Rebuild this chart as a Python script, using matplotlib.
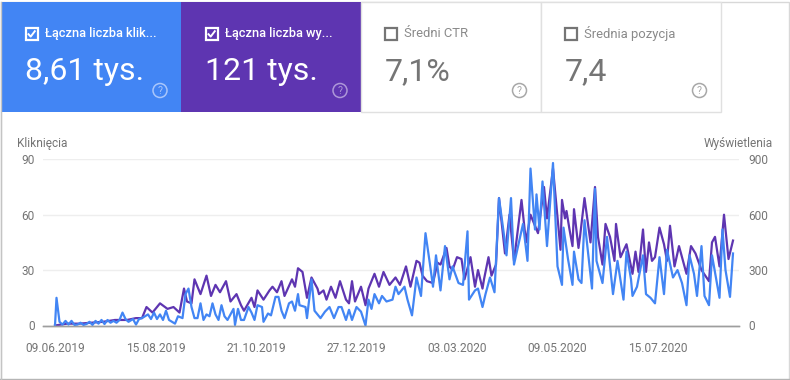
import matplotlib
matplotlib.use('Agg')
import matplotlib.pyplot as plt
from matplotlib.patches import Rectangle, Circle
import pandas as pd

plt.rcParams['font.family'] = ['Roboto', 'DejaVu Sans']

# Days counted from 09.06.2019
click_days = [0, 1, 3, 5, 7, 9, 11, 13, 15, 17, 19, 21, 23, 25, 27, 29, 31, 33, 35, 37, 39, 41, 43,
              45, 47, 49, 52, 54, 56, 58, 60, 62, 64, 66, 68, 70, 72, 74, 76, 78, 80, 82, 85, 87,
              89, 91, 93, 95, 97, 99, 101, 103, 105, 107, 109, 111, 113, 115, 117, 119, 120, 122,
              124, 126, 129, 131, 133, 135, 138, 139, 142, 144, 147, 149, 151, 153, 156, 158, 160,
              162, 163, 167, 168, 171, 173, 177, 180, 183, 186, 189, 191, 194, 196, 198, 201, 204,
              207, 209, 211, 213, 216, 218, 221, 225, 227, 229, 233, 235, 238, 241, 244, 247, 250,
              252, 254, 257, 260, 263, 265, 269, 272, 275, 276, 280, 282, 285, 287, 290, 293, 296,
              299, 301, 304, 306, 309, 312, 315, 317, 320, 321, 323, 325, 328, 332, 335, 338, 339,
              342, 345, 346, 349, 351, 353, 358, 360, 361, 365, 368, 372, 375, 379, 381, 384, 385,
              388, 392, 394, 397, 400, 403, 406, 408, 412, 415, 418, 421, 423, 426, 428, 431, 433,
              436, 438, 443, 445, 447, 450, 452]
clicks = [0, 15, 2, 0.5, 2.5, 0.5, 2.5, 0.3, 0.5, 1.5, 0.3, 0.8, 2, 0.3, 2.5, 1, 3, 0.8, 3, 1.5, 2.5, 1.5, 3,
          7, 3.5, 2, 3.5, 0.5, 3.5, 4, 5, 6, 3.5, 7, 3.5, 6, 3, 8, 3, 2, 1, 5, 4, 17,
          20, 10, 4, 4, 12, 3, 6, 5, 12, 6, 3, 11, 5, 3, 6, 9, 0.3, 9,
          3, 3, 10, 7, 3, 11, 10, 2, 6.5, 5.5, 15.5, 15.5, 8, 4, 12, 13, 8,
          17, 11, 10, 4, 25, 8, 4, 7.5, 10, 4, 10, 10, 3, 8.5, 3, 10, 7.5,
          0, 14, 9, 17, 12, 16, 13, 14, 21, 17, 21, 14, 5.5, 26, 16, 50, 33,
          21, 38, 19, 43, 25, 32, 23, 22, 51, 14, 19, 20, 10, 17, 26, 18, 69,
          51, 38, 69, 33, 44, 55, 35, 85, 52, 71, 52, 78, 43, 88, 32, 22, 53,
          36, 22, 40, 25, 23, 57, 20, 74, 35, 23, 48, 17, 35, 14, 40, 25, 16,
          21, 38, 17, 15, 12, 37, 17, 41, 26, 30, 23, 11, 38, 28, 16, 43, 16,
          11, 38, 15, 52, 30, 15.5, 39]

impression_days = [0, 8, 16, 24, 32, 40, 48, 54, 58, 61, 65, 70, 75, 79, 83, 86, 88, 91, 93, 97, 101, 104,
                   107, 110, 114, 117, 121, 124, 126, 131, 133, 135, 139, 143, 145, 148, 151, 153, 158,
                   160, 162, 165, 168, 171, 175, 176, 179, 181, 184, 187, 190, 194, 196, 198, 200, 204,
                   207, 209, 213, 216, 219, 223, 227, 230, 234, 237, 241, 243, 245, 248, 252, 255, 257,
                   261, 263, 265, 268, 271, 273, 277, 280, 282, 285, 286, 289, 291, 294, 296, 300, 303,
                   306, 309, 311, 314, 317, 322, 326, 328, 332, 337, 338, 340, 341, 343, 345, 346, 349,
                   350, 353, 357, 360, 362, 365, 367, 370, 373, 374, 377, 381, 385, 387, 389, 392, 394,
                   396, 398, 400, 403, 406, 408, 410, 413, 416, 421, 424, 427, 431, 436, 438, 440, 443,
                   446, 449, 452]
impressions = [0, 10, 10, 15, 20, 30, 30, 40, 40, 100, 70, 120, 90, 100, 70, 200, 130, 120, 250, 170, 270, 160,
               220, 180, 240, 130, 170, 110, 80, 150, 100, 190, 140, 190, 210, 180, 240, 160, 250,
               210, 310, 290, 150, 260, 200, 170, 190, 140, 210, 150, 240, 140, 120, 240, 130, 210,
               110, 200, 280, 210, 290, 220, 260, 220, 320, 210, 350, 340, 270, 240, 230, 340, 330,
               420, 320, 300, 370, 360, 250, 370, 210, 300, 200, 250, 370, 270, 330, 690, 390, 600,
               350, 550, 680, 450, 600, 500, 750, 580, 850, 410, 680, 580, 620, 520, 430, 630, 420,
               480, 690, 450, 750, 480, 330, 550, 480, 350, 550, 370, 440, 280, 400, 290, 520, 290,
               450, 350, 370, 530, 440, 350, 540, 320, 430, 280, 430, 390, 300, 240, 450, 480, 320,
               600, 360, 460]

tick_labels = ['09.06.2019', '15.08.2019', '21.10.2019', '27.12.2019', '03.03.2020', '09.05.2020', '15.07.2020']
tick_days = [(d - pd.Timestamp(2019, 6, 9)).days for d in pd.to_datetime(tick_labels, format='%d.%m.%Y')]
left_ticks = [0, 30, 60, 90]
right_ticks = [0, 300, 600, 900]

card_titles = ['Łączna liczba klik...', 'Łączna liczba wy...', 'Średni CTR', 'Średnia pozycja']
card_values = ['8,61 tys.', '121 tys.', '7,1%', '7,4']

BLUE = '#4285f4'
PURPLE = '#5e35b1'
GREY = '#757575'

W, H = 790, 380
fig = plt.figure(figsize=(W / 100, H / 100), dpi=100)

# Page layer in pixel coordinates, y pointing down
page = fig.add_axes([0, 0, 1, 1])
page.set_xlim(0, W)
page.set_ylim(H, 0)
page.axis('off')
page.add_patch(Rectangle((0.5, 1.5), W - 1.5, H - 2, fc='white', ec='#d8d8d8', lw=1))
page.plot([0, W], [379, 379], color='#b5b5b5', lw=1)
page.plot([0.5, 0.5], [2, H], color='#c4c4c4', lw=1)

card_x = [1, 181, 360.5, 540.5]
card_fill = [BLUE, PURPLE, 'white', 'white']
for i in range(4):
    x0 = card_x[i]
    on = i < 2
    page.add_patch(Rectangle((x0, 2), 180, 109.5, fc=card_fill[i],
                             ec='none' if on else '#e0e0e0', lw=1))
    text_col = 'white' if on else GREY
    # checkbox
    page.add_patch(Rectangle((x0 + 24.5, 28), 12, 12, fc='none', ec=('white' if on else '#757575'), lw=1.6))
    if on:
        page.plot([x0 + 27.5, x0 + 29.7, x0 + 33.8], [34.2, 36.6, 31.2], color='white', lw=1.4)
    page.text(x0 + 44, 33.5, card_titles[i], color=text_col if on else '#8a8a8a',
              fontsize=9.15 if on else 9.4,
              fontweight='medium' if on else 'normal', va='center', ha='left')
    page.text(x0 + 24, 80, card_values[i], color=text_col, fontsize=23, va='baseline', ha='left')
    # help icon
    help_col = '#a9c6fb' if i == 0 else '#ad97d8' if i == 1 else '#a8a8a8'
    page.add_patch(Circle((x0 + 159, 90.5), 7, fc='none', ec=help_col, lw=1.1))
    page.text(x0 + 159, 90.8, '?', color=help_col, fontsize=7.5, ha='center', va='center')

page.text(17, 143, 'Kliknięcia', color=GREY, fontsize=8.6, ha='left', va='center')
page.text(773, 143, 'Wyświetlenia', color=GREY, fontsize=8.6, ha='right', va='center')

# Chart area
ax_left, ax_right, ax_top, ax_bottom = 43, 739, 159.3, 325.5
ax = fig.add_axes([ax_left / W, 1 - ax_bottom / H, (ax_right - ax_left) / W, (ax_bottom - ax_top) / H])
ax.patch.set_alpha(0)
ax2 = ax.twinx()

ax2.plot(impression_days, impressions, color=PURPLE, lw=1.6, solid_joinstyle='round')
ax2.set_ylim(0, 900)
ax2.set_zorder(1)
ax.set_zorder(2)

ax.plot(click_days, clicks, color=BLUE, lw=1.6, solid_joinstyle='round', clip_on=False)
ax.set_ylim(0, 90)
ax.set_xlim((ax_left - 55) / 1.5, (ax_right - 55) / 1.5)
ax.set_xticks(tick_days)
ax.set_xticklabels(tick_labels)
ax.set_yticks(left_ticks)
ax2.set_yticks(right_ticks)

ax2.grid(True, axis='y', color='#eeeeee', lw=1)
ax2.set_axisbelow(True)
for a in (ax, ax2):
    for s in a.spines.values():
        s.set_visible(False)
    a.spines['bottom'].set_visible(True)
    a.spines['bottom'].set_color('#9e9e9e')
    a.spines['bottom'].set_linewidth(1)
    a.tick_params(length=0, labelsize=8.6, labelcolor=GREY)
ax.tick_params(axis='y', pad=6)
ax2.tick_params(axis='y', pad=7)
ax.tick_params(axis='x', pad=12)

fig.savefig('out.png', dpi=100)
